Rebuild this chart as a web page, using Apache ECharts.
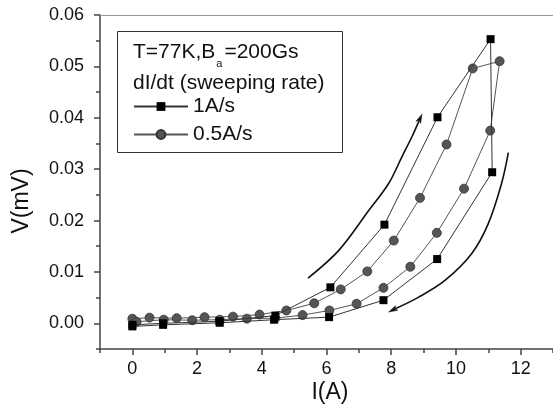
<!DOCTYPE html>
<html>
<head>
<meta charset="utf-8">
<script src="https://cdn.jsdelivr.net/npm/echarts@6/dist/echarts.min.js"></script>
<style>
  html, body { margin: 0; padding: 0; background: #fff; }
  #chart { width: 553px; height: 408px; }
</style>
</head>
<body>
<div id="chart"></div>
<script>
// Current I (A) and voltage V (mV), listed in sweep order: ramp up, then back down.
const sweep1A_I = [0, 0.95, 2.69, 4.42, 6.12, 7.79, 9.43, 11.07, 11.12, 9.42, 7.76, 6.08, 4.38, 2.70, 0.95, 0];
const sweep1A_V = [-0.0003, 0.0000, 0.0004, 0.0015, 0.0070, 0.0192, 0.0401, 0.0553, 0.0294, 0.0125, 0.0045, 0.0012, 0.0007, 0.0001, -0.0003, -0.0006];

const sweep05A_I = [0, 0.53, 1.37, 2.23, 3.11, 3.93, 4.76, 5.62, 6.44, 7.26, 8.08, 8.89, 9.71, 10.52, 11.35,
                    11.06, 10.25, 9.41, 8.59, 7.76, 6.93, 6.09, 5.26, 4.42, 3.54, 2.70, 1.85, 0.97, 0.13];
const sweep05A_V = [0.0009, 0.0011, 0.0010, 0.0012, 0.0013, 0.0017, 0.0025, 0.0039, 0.0066, 0.0101, 0.0161, 0.0244, 0.0348, 0.0496, 0.0510,
                    0.0375, 0.0262, 0.0176, 0.0110, 0.0069, 0.0038, 0.0025, 0.0016, 0.0010, 0.0009, 0.0007, 0.0006, 0.0007, 0.0003];

// Guide arrows showing the sweep direction (up branch on the left, down branch on the right).
const upArrow_I = [5.43, 6.38, 7.31, 7.92, 8.33, 8.64, 8.95];
const upArrow_V = [0.0088, 0.0142, 0.0220, 0.0272, 0.0324, 0.0363, 0.0407];
const downArrow_I = [11.62, 11.41, 11.00, 10.49, 9.67, 8.85, 7.92];
const downArrow_V = [0.0332, 0.0272, 0.0194, 0.0136, 0.0084, 0.0051, 0.0022];

// Tick positions
const xMajorTicks = [0, 2, 4, 6, 8, 10, 12];
const xMinorTicks = [-1, 1, 3, 5, 7, 9, 11, 13];
const yMajorTicks = [0, 0.01, 0.02, 0.03, 0.04, 0.05, 0.06];
const yMinorTicks = [-0.005, 0.005, 0.015, 0.025, 0.035, 0.045, 0.055];

const seriesNames = ['1A/s', '0.5A/s'];
const titleLine1 = ['T=77K,B', 'a', '=200Gs'];
const titleLine2 = 'dI/dt (sweeping rate)';
const xTitle = 'I(A)';
const yTitle = 'V(mV)';

const FONT = '"Liberation Sans", Arial, Helvetica, sans-serif';
const INK = '#111';
const AXIS = '#444';

const pairs = (xs, ys) => xs.map((x, i) => [x, ys[i]]);
const arrows = [
  { I: upArrow_I, V: upArrow_V },
  { I: downArrow_I, V: downArrow_V }
];

const chart = echarts.init(document.getElementById('chart'), null, { renderer: 'canvas' });

const xBase = {
  type: 'value', min: -1, max: 13, interval: 1, gridIndex: 0,
  splitLine: { show: false }
};
const yBase = {
  type: 'value', min: -0.005, max: 0.06, interval: 0.005, gridIndex: 0,
  splitLine: { show: false }
};

chart.setOption({
  animation: false,
  backgroundColor: '#fff',
  textStyle: { fontFamily: FONT },
  grid: { left: 100, right: -2, top: 15, bottom: 59, containLabel: false },
  xAxis: [
    Object.assign({}, xBase, {
      position: 'bottom',
      axisLine: { show: true, onZero: false, lineStyle: { color: AXIS, width: 1.5 } },
      axisTick: { show: true, inside: false, length: 6, customValues: xMajorTicks, lineStyle: { color: AXIS, width: 1.5 } },
      axisLabel: { show: true, customValues: xMajorTicks, margin: 11, color: INK, fontSize: 18, fontFamily: FONT }
    }),
    Object.assign({}, xBase, {
      position: 'bottom',
      axisLine: { show: false, onZero: false },
      axisTick: { show: true, inside: false, length: 4, customValues: xMinorTicks, lineStyle: { color: AXIS, width: 1.5 } },
      axisLabel: { show: false }
    }),
    Object.assign({}, xBase, {
      position: 'top',
      axisLine: { show: true, onZero: false, lineStyle: { color: '#999', width: 1 } },
      axisTick: { show: false },
      axisLabel: { show: false }
    })
  ],
  yAxis: [
    Object.assign({}, yBase, {
      position: 'left',
      axisLine: { show: true, onZero: false, lineStyle: { color: AXIS, width: 1.5 } },
      axisTick: { show: true, inside: false, length: 6, customValues: yMajorTicks, lineStyle: { color: AXIS, width: 1.5 } },
      axisLabel: {
        show: true, customValues: yMajorTicks, margin: 16, color: INK, fontSize: 18, fontFamily: FONT,
        formatter: v => v.toFixed(2)
      }
    }),
    Object.assign({}, yBase, {
      position: 'left',
      axisLine: { show: false, onZero: false },
      axisTick: { show: true, inside: false, length: 4, customValues: yMinorTicks, lineStyle: { color: AXIS, width: 1.5 } },
      axisLabel: { show: false }
    })
  ],
  legend: [
    {
      data: [seriesNames[0]], left: 133, top: 96, orient: 'vertical',
      itemWidth: 54, itemHeight: 11, padding: 0, itemGap: 0,
      textStyle: { fontSize: 21, color: INK, fontFamily: FONT },
      selectedMode: false
    },
    {
      data: [seriesNames[1]], left: 133, top: 124, orient: 'vertical',
      itemWidth: 54, itemHeight: 11, padding: 0, itemGap: 0,
      textStyle: { fontSize: 21, color: INK, fontFamily: FONT },
      selectedMode: false
    }
  ],
  graphic: [
    {
      type: 'rect', z: 0, silent: true,
      shape: { x: 117.5, y: 31.5, width: 225, height: 121 },
      style: { fill: null, stroke: '#333', lineWidth: 1 }
    },
    {
      type: 'text', z: 5, silent: true, x: 133, y: 42,
      style: {
        text: '{n|' + titleLine1[0] + '}{s|' + titleLine1[1] + '}{n|' + titleLine1[2] + '}',
        verticalAlign: 'top', align: 'left', fill: INK,
        rich: {
          n: { fontSize: 21, lineHeight: 23, verticalAlign: 'top', fontFamily: FONT, fill: INK },
          s: { fontSize: 11, lineHeight: 12, verticalAlign: 'top', padding: [16, 2, 0, 1], fontFamily: FONT, fill: INK }
        }
      }
    },
    {
      type: 'text', z: 5, silent: true, x: 133, y: 83,
      style: { text: titleLine2, font: '21px ' + FONT, fill: INK, align: 'left', verticalAlign: 'middle' }
    },
    {
      type: 'text', z: 5, silent: true, x: 330, y: 392.5,
      style: { text: xTitle, font: '23px ' + FONT, fill: INK, align: 'center', verticalAlign: 'middle' }
    },
    {
      type: 'text', z: 5, silent: true, x: 22, y: 201, rotation: Math.PI / 2,
      style: { text: yTitle, font: '23px ' + FONT, fill: INK, align: 'center', verticalAlign: 'middle' }
    }
  ],
  series: [
    {
      name: seriesNames[0], type: 'line', xAxisIndex: 0, yAxisIndex: 0,
      data: pairs(sweep1A_I, sweep1A_V),
      symbol: 'rect', symbolSize: 8, showAllSymbol: true,
      lineStyle: { color: '#333', width: 1 },
      itemStyle: { color: '#000', borderColor: '#000', borderWidth: 0 },
      z: 3
    },
    {
      name: seriesNames[1], type: 'line', xAxisIndex: 0, yAxisIndex: 0,
      data: pairs(sweep05A_I, sweep05A_V),
      symbol: 'circle', symbolSize: 9, showAllSymbol: true,
      lineStyle: { color: '#555', width: 1 },
      itemStyle: { color: '#555', borderColor: '#333', borderWidth: 0.8 },
      z: 2
    },
    {
      type: 'custom', xAxisIndex: 0, yAxisIndex: 0, silent: true, z: 4,
      data: arrows.map((a, k) => [a.I[a.I.length - 1], a.V[a.V.length - 1], k]),
      encode: { x: 0, y: 1 },
      renderItem: function (params, api) {
        const a = arrows[params.dataIndex];
        const pts = a.I.map((x, i) => api.coord([x, a.V[i]]));
        const n = pts.length;
        const tip = pts[n - 1];
        const prev = pts[n - 2];
        const dx = tip[0] - prev[0], dy = tip[1] - prev[1];
        const L = Math.hypot(dx, dy) || 1;
        const ux = dx / L, uy = dy / L;
        const headLen = 9, headHalf = 2.6;
        const base = [tip[0] - ux * headLen, tip[1] - uy * headLen];
        const notch = [tip[0] - ux * headLen * 0.75, tip[1] - uy * headLen * 0.75];
        const linePts = pts.slice(0, n - 1).concat([notch]);
        return {
          type: 'group',
          children: [
            {
              type: 'polyline',
              shape: { points: linePts, smooth: 0.35 },
              style: { stroke: '#111', lineWidth: 1.6, fill: null }
            },
            {
              type: 'polygon',
              shape: {
                points: [
                  tip,
                  [base[0] - uy * headHalf, base[1] + ux * headHalf],
                  notch,
                  [base[0] + uy * headHalf, base[1] - ux * headHalf]
                ]
              },
              style: { fill: '#111', stroke: '#111', lineWidth: 0.5 }
            }
          ]
        };
      }
    }
  ]
});
</script>
</body>
</html>
